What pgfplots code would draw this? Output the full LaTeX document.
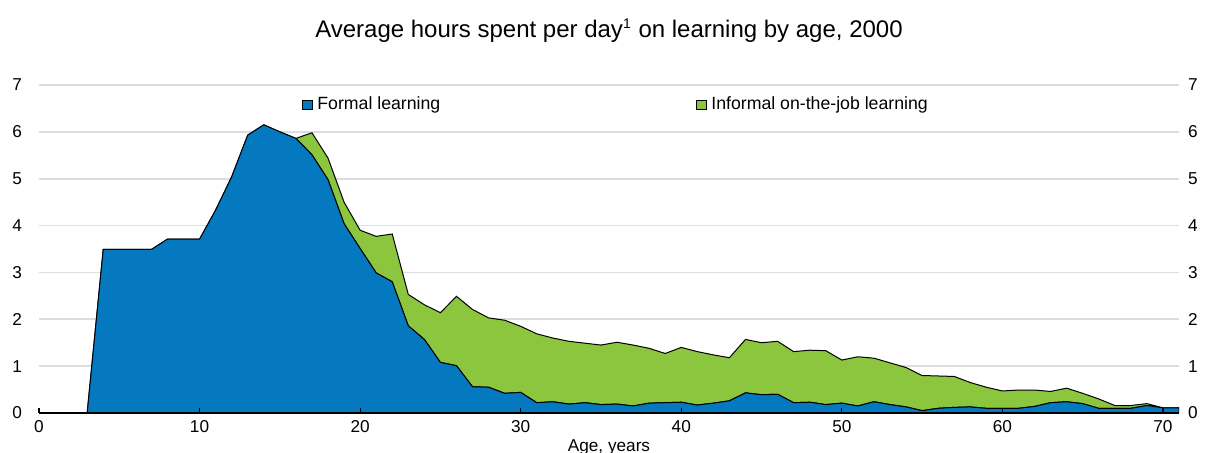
\documentclass[border=0pt]{standalone}
\usepackage{pgfplots}
\pgfplotsset{compat=1.18}
\usepackage{pgfplotstable}
\usepackage{fontspec}
\setmainfont{Liberation Sans}
\definecolor{oblue}{HTML}{0479C0}
\definecolor{ogreen}{HTML}{8CC63F}
\definecolor{gridgray}{HTML}{DDDDDD}

\pgfplotstableread{
x formal informal
0 0 0
1 0 0
2 0 0
3 0 0
4 3.49 0
5 3.49 0
6 3.49 0
7 3.49 0
8 3.71 0
9 3.71 0
10 3.71 0
11 4.33 0
12 5.04 0
13 5.93 0
14 6.15 0
15 6.00 0
16 5.86 0
17 5.51 0.47
18 4.98 0.46
19 4.04 0.46
20 3.51 0.39
21 2.99 0.78
22 2.80 1.02
23 1.86 0.67
24 1.57 0.74
25 1.08 1.06
26 1.01 1.48
27 0.56 1.65
28 0.55 1.48
29 0.42 1.56
30 0.44 1.41
31 0.22 1.47
32 0.24 1.36
33 0.19 1.34
34 0.22 1.27
35 0.18 1.27
36 0.19 1.32
37 0.15 1.30
38 0.21 1.17
39 0.22 1.05
40 0.23 1.17
41 0.17 1.14
42 0.21 1.03
43 0.26 0.92
44 0.43 1.14
45 0.39 1.11
46 0.40 1.13
47 0.22 1.09
48 0.23 1.11
49 0.18 1.15
50 0.21 0.92
51 0.15 1.05
52 0.24 0.93
53 0.18 0.89
54 0.13 0.84
55 0.05 0.75
56 0.10 0.69
57 0.12 0.66
58 0.13 0.52
59 0.10 0.45
60 0.10 0.37
61 0.10 0.39
62 0.14 0.35
63 0.22 0.24
64 0.24 0.29
65 0.20 0.22
66 0.10 0.20
67 0.10 0.06
68 0.10 0.06
69 0.16 0.04
70 0.11 0.00
71 0.11 0.00
}\data

\begin{document}
\begin{tikzpicture}
\pgfplotsset{common/.style={
  scale only axis, width=570pt, height=164pt,
  xmin=0, xmax=71, ymin=0, ymax=7,
  ytick={0,1,...,7}, xtick={0,10,...,70},
  /pgf/number format/assume math mode=true,
  tick label style={font=\fontsize{8.6}{10}\selectfont},
}}
\begin{axis}[common,
  stack plots=y,
  axis x line*=bottom, axis y line*=left,
  y axis line style={draw=none}, ytick style={draw=none},
  xtick style={draw=none},
  ymajorgrids, grid style={gridgray, line width=0.8pt},
  yticklabel style={xshift=-5pt},
  xlabel={Age, years},
  xlabel style={font=\fontsize{8.6}{10}\selectfont, at={(axis description cs:0.5,0)}, anchor=center, yshift=-17pt},
  title={Average hours spent per day\textsuperscript{\fontsize{7}{8}\selectfont 1} on learning by age, 2000},
  title style={font=\fontsize{12}{14}\selectfont, at={(axis description cs:0.5,1)}, anchor=center, yshift=21pt},
  legend columns=2,
  legend style={at={(axis description cs:0.2307,0.94)}, anchor=west, draw=none, fill=none,
    font=\fontsize{8.85}{10}\selectfont, inner sep=0pt,
    /tikz/every even column/.append style={column sep=126pt}},
  legend image code/.code={\draw[#1, line width=0.5pt] (0pt,-2.3pt) rectangle (5pt,2.3pt);},
]
\addplot[fill=oblue, draw=black, line width=0.5pt] table[x=x,y=formal]{\data} \closedcycle;
\addlegendentry{Formal learning}
\addplot[fill=ogreen, draw=black, line width=0.5pt] table[x=x,y=informal]{\data} \closedcycle;
\addlegendentry{Informal on-the-job learning}
\coordinate (bl) at (rel axis cs:0,0);
\coordinate (tr) at (rel axis cs:1,1);
\end{axis}
\begin{axis}[common,
  axis x line*=bottom, axis y line*=right,
  y axis line style={draw=none}, ytick style={draw=none},
  xticklabels={}, tick align=inside, major tick length=2.5pt,
  xtick style={black, line width=0.6pt},
  x axis line style={black, line width=0.7pt},
  yticklabel style={xshift=1pt},
]
\addplot[draw=none] coordinates {(0,0)};
\end{axis}
\pgfresetboundingbox
\path[use as bounding box] ([xshift=-19.5pt,yshift=-20pt]bl) rectangle ([xshift=14.5pt,yshift=42.5pt]tr);
\end{tikzpicture}
\end{document}
